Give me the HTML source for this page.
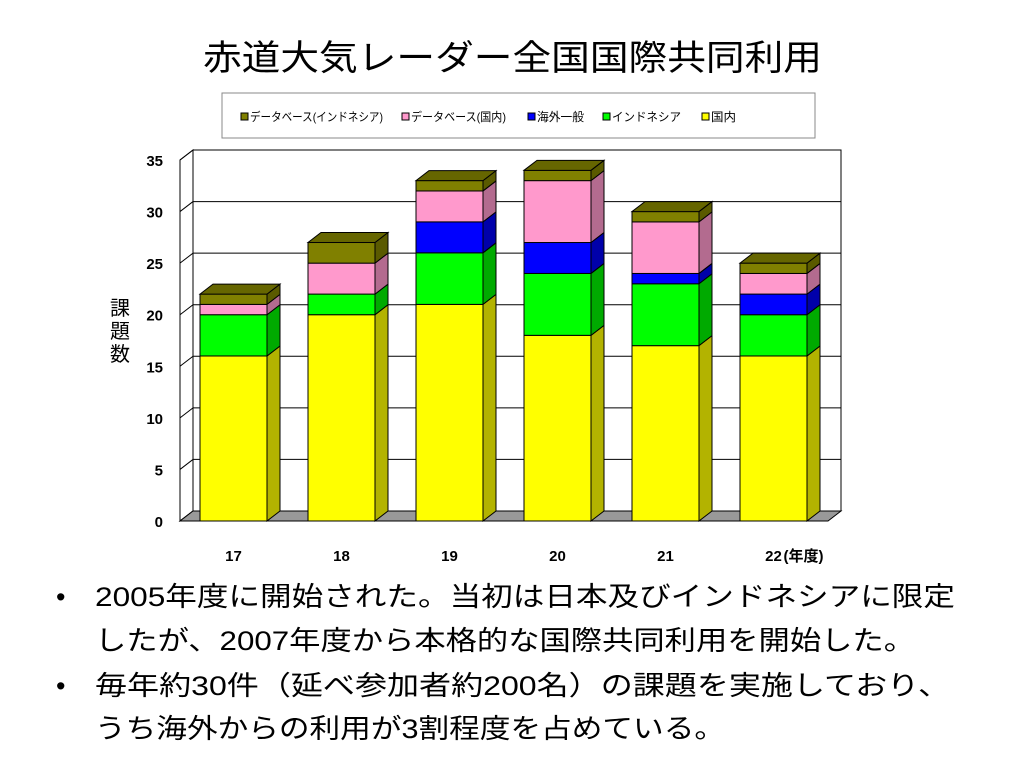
<!DOCTYPE html>
<html><head><meta charset="utf-8">
<style>
body{margin:0;width:1024px;height:768px;background:#fff;overflow:hidden;font-family:"Liberation Sans","Noto Sans CJK JP",sans-serif;position:relative}
</style></head><body>
<svg id="chart" width="1024" height="768" style="position:absolute;left:0;top:0"></svg>
<script>
const categories=["17","18","19","20","21","22"];
const seriesNames=["国内","インドネシア","海外一般","データベース(国内)","データベース(インドネシア)"];
const domestic=[16,20,21,18,17,16];
const indonesia=[4,2,5,6,6,4];
const overseas=[0,0,3,3,1,2];
const dbDomestic=[1,3,3,6,5,2];
const dbIndonesia=[1,2,1,1,1,1];
const yTicks=[0,5,10,15,20,25,30,35];
const series=[domestic,indonesia,overseas,dbDomestic,dbIndonesia];
const fronts=["#ffff00","#00ff00","#0000ff","#ff99cc","#808000"];
const sides=["#b3b300","#00aa00","#0000aa","#b36b8f","#5a5a00"];
const tops=["#cccc00","#00cc00","#0000cc","#cc7aa3","#666600"];
const svg=document.getElementById('chart');const NS="http://www.w3.org/2000/svg";
function el(t,a,p){const e=document.createElementNS(NS,t);for(const k in a)e.setAttribute(k,a[k]);(p||svg).appendChild(e);return e;}
// title
let tt=el('text',{x:203,y:70,'font-size':35,textLength:619,lengthAdjust:'spacingAndGlyphs'});tt.textContent="赤道大気レーダー全国国際共同利用";

const y0=521,pu=(521-160)/35,dx=13,dy=10,x0=180,x1=828;
const Y=v=>y0-v*pu;
const X=i=>200+i*108;const bw=67;
let w=el('rect',{x:x0+dx,y:Y(35)-dy,width:x1-x0,height:Y(0)-Y(35),fill:'#fff',stroke:'#000','stroke-width':1});

let lw=el('polygon',{points:`${x0},${Y(0)} ${x0+dx},${Y(0)-dy} ${x0+dx},${Y(35)-dy} ${x0},${Y(35)}`,fill:'#fff',stroke:'#000'});

yTicks.forEach(v=>{
 let g=el('line',{x1:x0+dx,x2:x1+dx,y1:Y(v)-dy,y2:Y(v)-dy,stroke:'#000'});
 
 let d=el('line',{x1:x0,x2:x0+dx,y1:Y(v),y2:Y(v)-dy,stroke:'#000'});
 
 let t=el('text',{x:163,y:Y(v)+6,'text-anchor':'end','font-size':15,'font-weight':'bold'});t.textContent=v;
 
});
let fl=el('polygon',{points:`${x0},${Y(0)} ${x1},${Y(0)} ${x1+dx},${Y(0)-dy} ${x0+dx},${Y(0)-dy}`,fill:'#999',stroke:'#000'});

let ax=el('line',{x1:x0,x2:x0,y1:Y(0),y2:Y(35),stroke:'#000'});

categories.forEach((c,i)=>{
 let base=0;const x=X(i);
 series.forEach((s,k)=>{
  const v=s[i];if(v<=0)return;const yt=Y(base+v),yb=Y(base);
  let f=el('rect',{x:x,y:yt,width:bw,height:yb-yt,fill:fronts[k],stroke:'#000','stroke-width':1});
  
  let sd=el('polygon',{points:`${x+bw},${yb} ${x+bw+dx},${yb-dy} ${x+bw+dx},${yt-dy} ${x+bw},${yt}`,fill:sides[k],stroke:'#000'});
  
  base+=v;
 });
 const yt=Y(base);const top=series.length-1;
 let tp=el('polygon',{points:`${x},${yt} ${x+dx},${yt-dy} ${x+bw+dx},${yt-dy} ${x+bw},${yt}`,fill:tops[top],stroke:'#000'});
 
 let t=el('text',{x:x+bw/2,y:561,'text-anchor':'middle','font-size':15,'font-weight':'bold'});t.textContent=c;
 
});
let yr=el('text',{x:X(5)+bw/2+10,y:561,'font-size':15,'font-weight':'bold'});yr.textContent="(年度)";

let yl=el('text',{x:120,y:315,'text-anchor':'middle','font-size':20});

["課","題","数"].forEach((ch,i)=>{let ts=el('tspan',{x:120,y:315+i*23},yl);ts.textContent=ch;});
let lb=el('rect',{x:222,y:93,width:593,height:45,fill:'#fff',stroke:'#888'});

const legX=[241,402,528,603,702];
const legW=[133,95,47,69,25];
[4,3,2,1,0].forEach((k,j)=>{
 let r=el('rect',{x:legX[j],y:113,width:7,height:7,fill:fronts[k],stroke:'#000'});
 
 let t=el('text',{x:legX[j]+9,y:121,'font-size':12,textLength:legW[j],lengthAdjust:'spacingAndGlyphs'});t.textContent=seriesNames[k];
 
});
// bullets
const lines=[["2005年度に開始された。当初は日本及びインドネシアに限定",606,860],["したが、2007年度から本格的な国際共同利用を開始した。",650,820],["毎年約30件（延べ参加者約200名）の課題を実施しており、",695,855],["うち海外からの利用が3割程度を占めている。",738,630]];
lines.forEach((l,i)=>{
 let t=el('text',{x:95,y:l[1],'font-size':27,textLength:l[2],lengthAdjust:'spacingAndGlyphs'});t.textContent=l[0];
 
});
[606,695].forEach(y=>{let d=el('text',{x:56,y:y,'font-size':27});d.textContent="•";
 });
</script>
</body></html>
